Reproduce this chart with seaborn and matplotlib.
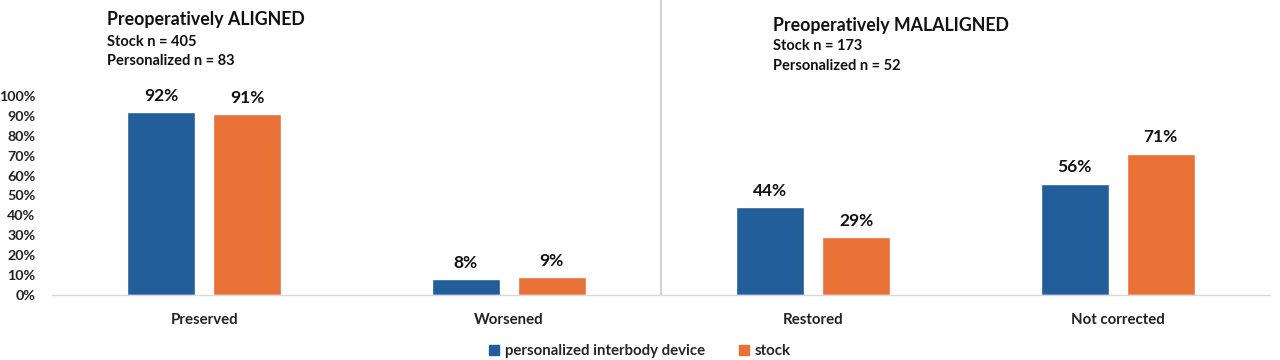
import pandas as pd
import matplotlib.pyplot as plt
import seaborn as sns

# data
categories = ["Preserved", "Worsened", "Restored", "Not corrected"]
personalized = [0.92, 0.08, 0.44, 0.56]
stock = [0.91, 0.09, 0.29, 0.71]
series_names = ["personalized interbody device", "stock"]
y_ticks = [0.0, 0.1, 0.2, 0.3, 0.4, 0.5, 0.6, 0.7, 0.8, 0.9, 1.0]

df = pd.DataFrame({
    "category": categories * 2,
    "value": personalized + stock,
    "series": [series_names[0]] * 4 + [series_names[1]] * 4,
})

sns.set_style("white")
plt.rcParams["font.family"] = ["Lato", "DejaVu Sans"]
plt.rcParams["font.weight"] = "bold"

blue = "#225E99"
orange = "#EA7135"

fig = plt.figure(figsize=(12.8, 3.6), dpi=100)
ax = fig.add_axes([0.0406, 0.1806, 0.9516, 0.5528])

sns.barplot(data=df, x="category", y="value", hue="series",
            palette=[blue, orange], width=0.565, gap=0.21,
            saturation=1, ax=ax, legend=False)

ax.set_ylim(0, 1.0)
ax.set_xlim(-0.5, 3.5)
ax.set_yticks(y_ticks)
ax.set_yticklabels([f"{int(round(t * 100))}%" for t in y_ticks],
                   fontsize=10.3, fontweight="bold", color="#222222")
ax.tick_params(axis="x", length=0, pad=13, labelsize=10.8, labelcolor="#222222")
ax.tick_params(axis="y", length=0, pad=12)
for lab in ax.get_xticklabels():
    lab.set_fontweight("bold")
ax.set_xlabel("")
ax.set_ylabel("")

for side in ["left", "right", "top"]:
    ax.spines[side].set_visible(False)
ax.spines["bottom"].set_color("#d9d9d9")
ax.spines["bottom"].set_linewidth(1.0)

# value labels above bars
for cont in ax.containers:
    ax.bar_label(cont, labels=[f"{int(round(v * 100))}%" for v in cont.datavalues],
                 padding=6, fontsize=12.5, fontweight="bold", color="#111111")

# divider between the two groups
ax.plot([1.5, 1.5], [0, 1.48], color="#c8c8c8", lw=1.2, clip_on=False)

# group headers
fig.text(107 / 1280, 1 - 20 / 360, "Preoperatively ALIGNED", fontsize=12.8,
         fontweight="bold", va="center", color="#111111")
fig.text(107 / 1280, 1 - 42 / 360, "Stock n = 405", fontsize=10.5,
         fontweight="bold", va="center", color="#111111")
fig.text(107 / 1280, 1 - 61 / 360, "Personalized n = 83", fontsize=10.5,
         fontweight="bold", va="center", color="#111111")
fig.text(773 / 1280, 1 - 25 / 360, "Preoperatively MALALIGNED", fontsize=12.8,
         fontweight="bold", va="center", color="#111111")
fig.text(773 / 1280, 1 - 46 / 360, "Stock n = 173", fontsize=10.5,
         fontweight="bold", va="center", color="#111111")
fig.text(773 / 1280, 1 - 66 / 360, "Personalized n = 52", fontsize=10.5,
         fontweight="bold", va="center", color="#111111")

# legend
handles = [plt.Rectangle((0, 0), 1, 1, color=c) for c in [blue, orange]]
fig.legend(handles, series_names, loc="center", bbox_to_anchor=(0.5, 1 - 351 / 360),
           ncol=2, frameon=False, handlelength=0.7, handleheight=0.7,
           handletextpad=0.4, columnspacing=2.2, prop={"weight": "bold", "size": 10.8})

fig.savefig("out.png", dpi=100)
